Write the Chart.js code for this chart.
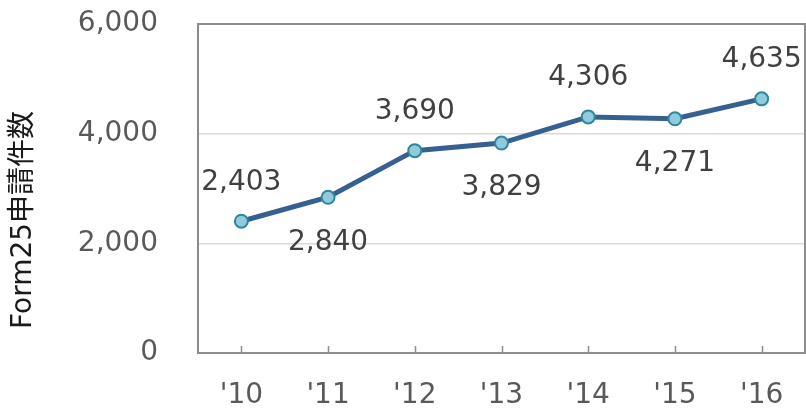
<!DOCTYPE html>
<html>
<head>
<meta charset="utf-8">
<script src="https://cdn.jsdelivr.net/npm/chart.js@4"></script>
<style>
  html, body { margin: 0; padding: 0; background: #fff; }
  #wrap { width: 806px; height: 410px; }
</style>
</head>
<body>
<div id="wrap"><canvas id="chart" width="806" height="410"></canvas></div>
<script>
// data
const years = ["'10", "'11", "'12", "'13", "'14", "'15", "'16"];
const filings = [2403, 2840, 3690, 3829, 4306, 4271, 4635];
const yTicks = [0, 2000, 4000, 6000];
const yTitle = 'Form25申請件数';

const FONT = '"DejaVu Sans", "Noto Sans CJK JP", sans-serif';

// frame, inner tick marks, value labels and axis title
const decorations = {
    id: 'decorations',
    afterDatasetsDraw(chart) {
        const { ctx, chartArea: a, scales: { x, y } } = chart;
        ctx.save();
        ctx.strokeStyle = '#8c8c8c';
        ctx.lineWidth = 2;
        ctx.strokeRect(a.left, a.top, a.right - a.left, a.bottom - a.top);
        ctx.lineWidth = 1.5;
        years.forEach((_, i) => {
            const px = Math.round(x.getPixelForValue(i)) + 0.5;
            ctx.beginPath();
            ctx.moveTo(px, a.bottom);
            ctx.lineTo(px, a.bottom - 7);
            ctx.stroke();
        });

        ctx.fillStyle = '#404040';
        ctx.font = '28px ' + FONT;
        ctx.textAlign = 'center';
        ctx.textBaseline = 'middle';
        filings.forEach((v, i) => {
            const px = x.getPixelForValue(i);
            const py = y.getPixelForValue(v);
            const dy = i % 2 === 0 ? -39 : 45;
            ctx.fillText(v.toLocaleString('en-US'), px, py + dy);
        });

        ctx.fillStyle = '#1a1a1a';
        ctx.font = '28px ' + FONT;
        ctx.translate(24, 220);
        ctx.rotate(-Math.PI / 2);
        ctx.fillText(yTitle, 0, 0);
        ctx.restore();
    }
};

new Chart(document.getElementById('chart'), {
    type: 'line',
    data: {
        labels: years,
        datasets: [{
            data: filings,
            borderColor: '#366092',
            borderWidth: 5,
            pointRadius: 6.5,
            pointBackgroundColor: '#8fcbdc',
            pointBorderColor: '#31859c',
            pointBorderWidth: 2,
            tension: 0
        }]
    },
    options: {
        responsive: false,
        animation: false,
        layout: { autoPadding: false, padding: { top: 24, right: 1, left: 0, bottom: 0 } },
        plugins: { legend: { display: false }, tooltip: { enabled: false } },
        scales: {
            x: {
                offset: true,
                grid: { display: false, drawTicks: false },
                border: { display: false },
                ticks: { color: '#595959', font: { size: 28, family: FONT }, padding: 26 },
                afterFit: s => {
                    s.height = 57;
                    s.paddingLeft = 0;
                    s.paddingRight = 0;
                }
            },
            y: {
                min: 0,
                max: 6000,
                afterBuildTicks: s => { s.ticks = yTicks.map(v => ({ value: v })); },
                grid: { color: '#d9d9d9', lineWidth: 1.5, drawTicks: false },
                border: { display: false },
                ticks: {
                    color: '#595959',
                    font: { size: 28, family: FONT },
                    padding: 40,
                    callback: v => v.toLocaleString('en-US')
                },
                afterFit: s => {
                    s.width = 198;
                    s.paddingTop = 0;
                    s.paddingBottom = 0;
                }
            }
        }
    },
    plugins: [decorations]
});
</script>
</body>
</html>
